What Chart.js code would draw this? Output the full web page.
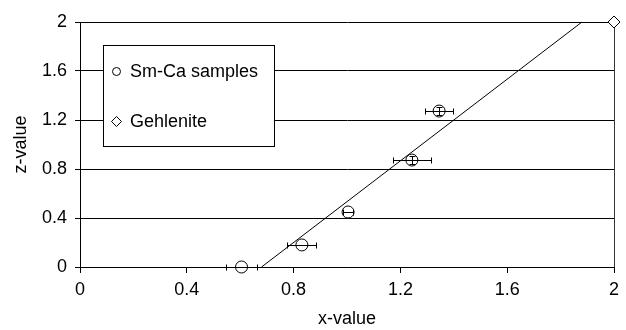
<!DOCTYPE html>
<html>
<head>
<meta charset="utf-8">
<script src="https://cdn.jsdelivr.net/npm/chart.js@4/dist/chart.umd.min.js"></script>
<style>
    html, body { margin: 0; padding: 0; background: #fff; }
    #wrap { width: 626px; height: 330px; }
</style>
</head>
<body>
<div id="wrap"><canvas id="chart" width="626" height="330"></canvas></div>
<script>
// Sm-Ca samples with x error (and small z error)
const sampleX = [0.605, 0.831, 1.004, 1.243, 1.345];
const sampleZ = [0.0, 0.18, 0.449, 0.873, 1.273];
const sampleXErr = [0.058, 0.054, 0.02, 0.071, 0.052];
const sampleZErr = [0, 0, 0, 0.03, 0.03];

const gehleniteX = [2];
const gehleniteZ = [2];

const trendX = [0.68, 1.88];
const trendZ = [0, 2];

const axisTicks = [0, 0.4, 0.8, 1.2, 1.6, 2];
const legendLabels = ['Sm-Ca samples', 'Gehlenite'];

const font = { family: 'Liberation Sans, Arial, sans-serif', size: 18 };

const errorBars = {
    id: 'errorBars',
    afterDatasetsDraw(chart) {
        const ctx = chart.ctx;
        const xs = chart.scales.x, ys = chart.scales.y;
        ctx.save();
        ctx.strokeStyle = '#000';
        ctx.lineWidth = 1;
        sampleX.forEach((x, i) => {
            const py = Math.round(ys.getPixelForValue(sampleZ[i])) + 0.5;
            const px = Math.round(xs.getPixelForValue(x)) + 0.5;
            const x0 = Math.round(xs.getPixelForValue(x - sampleXErr[i])) + 0.5;
            const x1 = Math.round(xs.getPixelForValue(x + sampleXErr[i])) + 0.5;
            ctx.beginPath();
            ctx.moveTo(x0, py); ctx.lineTo(x1, py);
            ctx.moveTo(x0, py - 3); ctx.lineTo(x0, py + 3);
            ctx.moveTo(x1, py - 3); ctx.lineTo(x1, py + 3);
            if (sampleZErr[i] > 0) {
                const y0 = Math.round(ys.getPixelForValue(sampleZ[i] - sampleZErr[i])) + 0.5;
                const y1 = Math.round(ys.getPixelForValue(sampleZ[i] + sampleZErr[i])) + 0.5;
                ctx.moveTo(px, y0); ctx.lineTo(px, y1);
                ctx.moveTo(px - 3, y0); ctx.lineTo(px + 3, y0);
                ctx.moveTo(px - 3, y1); ctx.lineTo(px + 3, y1);
            }
            ctx.stroke();
        });
        ctx.restore();
    }
};

const boxLegend = {
    id: 'boxLegend',
    afterDraw(chart) {
        const ctx = chart.ctx;
        ctx.save();
        ctx.fillStyle = '#fff';
        ctx.fillRect(103, 45, 171, 101);
        ctx.strokeStyle = '#000';
        ctx.lineWidth = 1;
        ctx.strokeRect(103.5, 45.5, 171, 101);
        // markers
        ctx.beginPath();
        ctx.arc(116.5, 71.5, 4, 0, Math.PI * 2);
        ctx.stroke();
        ctx.beginPath();
        ctx.moveTo(116.5, 116.5); ctx.lineTo(121.5, 121.5);
        ctx.lineTo(116.5, 126.5); ctx.lineTo(111.5, 121.5);
        ctx.closePath();
        ctx.stroke();
        ctx.fillStyle = '#000';
        ctx.font = `${font.size}px ${font.family}`;
        ctx.textBaseline = 'middle';
        ctx.fillText(legendLabels[0], 130, 72);
        ctx.fillText(legendLabels[1], 130, 122);
        ctx.restore();
    }
};

new Chart(document.getElementById('chart'), {
    type: 'scatter',
    data: {
        datasets: [
            {
                type: 'line',
                data: trendX.map((x, i) => ({ x: x, y: trendZ[i] })),
                borderColor: '#000',
                borderWidth: 1,
                pointRadius: 0,
                fill: false
            },
            {
                label: legendLabels[0],
                data: sampleX.map((x, i) => ({ x: x, y: sampleZ[i] })),
                pointStyle: 'circle',
                pointRadius: 6,
                borderColor: '#000',
                borderWidth: 1,
                backgroundColor: 'rgba(255,255,255,0)'
            },
            {
                label: legendLabels[1],
                data: gehleniteX.map((x, i) => ({ x: x, y: gehleniteZ[i] })),
                pointStyle: 'rectRot',
                pointRadius: 6,
                borderColor: '#000',
                borderWidth: 1,
                backgroundColor: '#fff'
            }
        ]
    },
    options: {
        responsive: false,
        animation: false,
        clip: false,
        layout: { padding: { top: 22, right: 12, left: 0, bottom: 0 } },
        plugins: { legend: { display: false }, tooltip: { enabled: false } },
        scales: {
            x: {
                type: 'linear',
                min: 0, max: 2,
                afterBuildTicks: (s) => { s.ticks = axisTicks.map(v => ({ value: v })); },
                afterFit: (s) => { s.height = 63; },
                ticks: { color: '#000', font: font, padding: 6, maxRotation: 0,
                         callback: (v) => String(Math.round(v * 10) / 10) },
                grid: {
                    color: (c) => c.tick && c.tick.value === 2 ? '#333' : 'rgba(0,0,0,0)',
                    tickColor: '#000',
                    tickLength: 6,
                    lineWidth: 1
                },
                border: { color: '#000' },
                title: { display: true, text: 'x-value', color: '#000', font: font, padding: { top: 0, bottom: 0 } }
            },
            y: {
                type: 'linear',
                min: 0, max: 2,
                afterBuildTicks: (s) => { s.ticks = axisTicks.map(v => ({ value: v })); },
                afterFit: (s) => { s.width = 80; },
                ticks: { color: '#000', font: font, padding: 8,
                         callback: (v) => String(Math.round(v * 10) / 10) },
                grid: { color: '#000', tickColor: '#000', tickLength: 5, lineWidth: 1 },
                border: { color: '#000' },
                title: { display: true, text: 'z-value', color: '#000', font: font, padding: { top: 10, bottom: 4 } }
            }
        }
    },
    plugins: [errorBars, boxLegend]
});
</script>
</body>
</html>
